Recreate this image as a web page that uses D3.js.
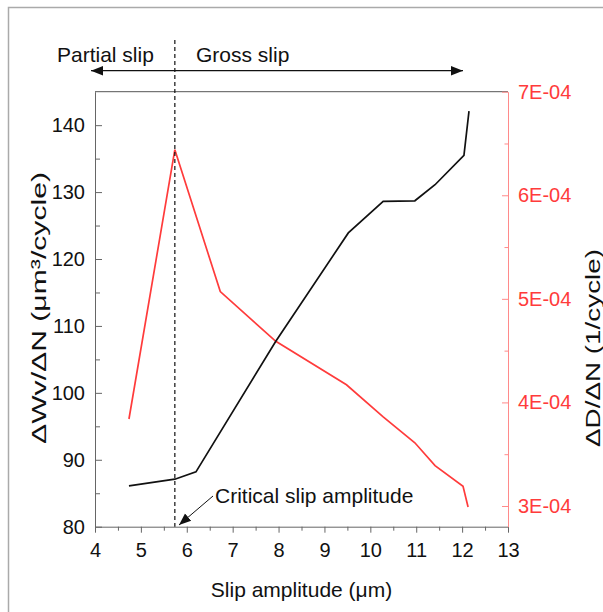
<!DOCTYPE html>
<html lang="en">
<head>
<meta charset="utf-8">
<title>Slip amplitude</title>
<script src="https://cdn.jsdelivr.net/npm/d3@7"></script>
<style>
  body { margin: 0; background: #fff; }
  svg { display: block; font-family: "Liberation Sans", Arial, sans-serif; }
  .axis text { font-size: 20px; }
</style>
</head>
<body>
<svg id="chart" width="603" height="612"></svg>
<script>
// wear volume rate (left axis)
var wearX = [4.74, 5.74, 6.2, 7.94, 9.52, 10.28, 10.97, 11.41, 12.04, 12.15];
var wearY = [86.1, 87.1, 88.2, 107.7, 123.9, 128.6, 128.7, 131.1, 135.5, 142.1];

// damage rate (right axis)
var dmgX = [4.74, 5.74, 6.73, 7.94, 9.48, 10.28, 10.97, 11.41, 12.02, 12.13];
var dmgY = [3.84e-4, 6.44e-4, 5.07e-4, 4.59e-4, 4.17e-4, 3.86e-4, 3.61e-4, 3.39e-4, 3.19e-4, 2.99e-4];

var xTicks = [4, 5, 6, 7, 8, 9, 10, 11, 12, 13];
var leftTicks = [80, 90, 100, 110, 120, 130, 140];
var rightTicks = [3e-4, 4e-4, 5e-4, 6e-4, 7e-4];
var criticalSlip = 5.74;

var svg = d3.select("#chart");
// plot box (note: "top" is a reserved window property, so use pTop etc.)
var pLeft = 95, pRight = 508, pTop = 91.7, pBottom = 526.7;

var x = d3.scaleLinear().domain([4, 13]).range([pLeft, pRight]);
var yL = d3.scaleLinear().domain([80, 145]).range([pBottom, pTop]);
var yR = d3.scaleLinear().domain([2.8e-4, 7e-4]).range([pBottom, pTop]);

// outer frame
svg.append("rect")
  .attr("x", 8.5).attr("y", 7.5)
  .attr("width", 700).attr("height", 700)
  .attr("fill", "none").attr("stroke", "#aaa").attr("stroke-width", 1.5);

// top border of the plot
svg.append("line")
  .attr("x1", pLeft).attr("x2", pRight).attr("y1", pTop).attr("y2", pTop)
  .attr("stroke", "#555").attr("stroke-width", 1);

// bottom axis
svg.append("g").attr("class", "axis")
  .attr("transform", "translate(0," + pBottom + ")")
  .call(d3.axisBottom(x).tickValues(xTicks).tickSize(6).tickSizeOuter(0).tickPadding(10).tickFormat(d3.format("d")));
svg.append("g").attr("class", "axis")
  .attr("transform", "translate(0," + pBottom + ")")
  .call(d3.axisBottom(x).tickValues(d3.range(4.5, 13, 1)).tickSize(4).tickSizeOuter(0).tickFormat(""))
  .call(g => g.select(".domain").remove());

// left axis (ticks inside)
svg.append("g").attr("class", "axis")
  .attr("transform", "translate(" + pLeft + ",0)")
  .call(d3.axisLeft(yL).tickValues(leftTicks).tickSizeInner(-7).tickSizeOuter(0).tickPadding(10));
svg.append("g").attr("class", "axis")
  .attr("transform", "translate(" + pLeft + ",0)")
  .call(d3.axisLeft(yL).tickValues([85, 95, 105, 115, 125, 135]).tickSizeInner(-5).tickSizeOuter(0).tickFormat(""))
  .call(g => g.select(".domain").remove());

// right axis (red, ticks inside)
svg.append("g").attr("class", "raxis")
  .attr("transform", "translate(" + pRight + ",0)")
  .call(d3.axisRight(yR).tickValues(rightTicks).tickSizeInner(-6).tickSizeOuter(0).tickPadding(10)
    .tickFormat(d => Math.round(d * 1e4) + "E-04"));
svg.append("g").attr("class", "raxis")
  .attr("transform", "translate(" + pRight + ",0)")
  .call(d3.axisRight(yR).tickValues([3.5e-4, 4.5e-4, 5.5e-4, 6.5e-4]).tickSizeInner(-3.5).tickSizeOuter(0).tickFormat(""))
  .call(g => g.select(".domain").remove());

svg.selectAll(".axis .domain, .axis line").attr("stroke", "#666");
svg.selectAll(".axis text").attr("fill", "#111");
svg.selectAll(".raxis .domain, .raxis line").attr("stroke", "#ff8a8a");
svg.selectAll(".raxis text").attr("fill", "#ff3b3b").attr("font-size", 20);

// lines
var wearLine = d3.line().x((d, i) => x(wearX[i])).y(d => yL(d));
var dmgLine = d3.line().x((d, i) => x(dmgX[i])).y(d => yR(d));

svg.append("path").datum(dmgY)
  .attr("d", dmgLine).attr("fill", "none")
  .attr("stroke", "#ff3b3b").attr("stroke-width", 1.7);
svg.append("path").datum(wearY)
  .attr("d", wearLine).attr("fill", "none")
  .attr("stroke", "#111").attr("stroke-width", 1.7);

// critical slip dashed line
svg.append("line")
  .attr("x1", x(criticalSlip)).attr("x2", x(criticalSlip))
  .attr("y1", 40).attr("y2", pBottom)
  .attr("stroke", "#111").attr("stroke-width", 1.2)
  .attr("stroke-dasharray", "4,3");

// arrow markers
var defs = svg.append("defs");
defs.append("marker").attr("id", "head")
  .attr("viewBox", "0 0 10 10").attr("refX", 10).attr("refY", 5)
  .attr("markerWidth", 12).attr("markerHeight", 12)
  .attr("markerUnits", "userSpaceOnUse").attr("orient", "auto-start-reverse")
  .append("path").attr("d", "M0,1 L10,5 L0,9 Z").attr("fill", "#111");

// partial / gross slip arrow
svg.append("line")
  .attr("x1", 91).attr("x2", 463).attr("y1", 70.7).attr("y2", 70.7)
  .attr("stroke", "#111").attr("stroke-width", 1.2)
  .attr("marker-start", "url(#head)").attr("marker-end", "url(#head)");

svg.append("text").attr("x", 57).attr("y", 62)
  .attr("font-size", 21).attr("fill", "#111").text("Partial slip");
svg.append("text").attr("x", 196).attr("y", 62)
  .attr("font-size", 21).attr("fill", "#111").text("Gross slip");

// critical slip annotation
svg.append("line")
  .attr("x1", 213).attr("y1", 496).attr("x2", 179).attr("y2", 525)
  .attr("stroke", "#111").attr("stroke-width", 1)
  .attr("marker-end", "url(#head)");
svg.append("text").attr("x", 215).attr("y", 503)
  .attr("font-size", 21).attr("fill", "#111").text("Critical slip amplitude");

// axis titles
svg.append("text").attr("x", (pLeft + pRight) / 2).attr("y", 597)
  .attr("text-anchor", "middle").attr("font-size", 21).attr("fill", "#111")
  .text("Slip amplitude (μm)");
svg.append("text")
  .attr("transform", "translate(46,308) rotate(-90)")
  .attr("text-anchor", "middle").attr("font-size", 20).attr("fill", "#111")
  .attr("textLength", 272).attr("lengthAdjust", "spacingAndGlyphs")
  .text("ΔWv/ΔN (μm³/cycle)");
svg.append("text")
  .attr("transform", "translate(600,348) rotate(-90)")
  .attr("text-anchor", "middle").attr("font-size", 20).attr("fill", "#111")
  .attr("textLength", 198).attr("lengthAdjust", "spacingAndGlyphs")
  .text("ΔD/ΔN (1/cycle)");
</script>
</body>
</html>
